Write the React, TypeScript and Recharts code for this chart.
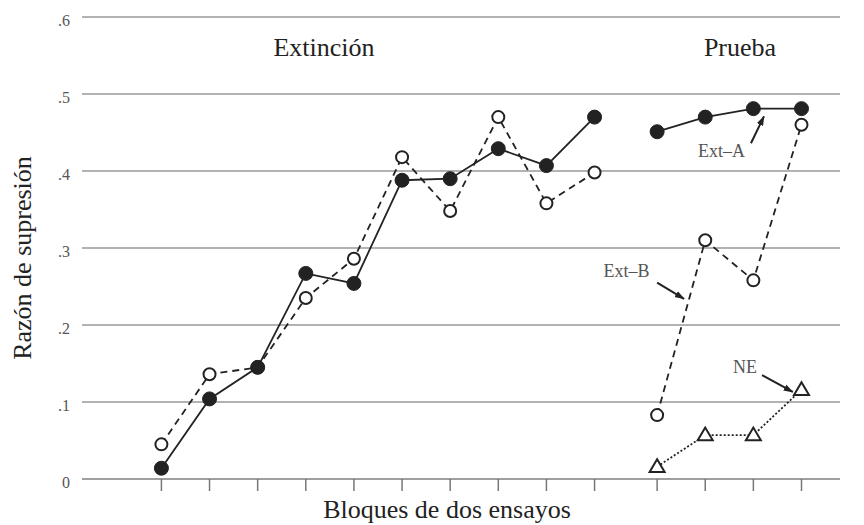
import React from "react";
import {
  LineChart,
  Line,
  XAxis,
  YAxis,
  CartesianGrid,
  ReferenceLine,
  Customized,
} from "recharts";

// Block positions (extinction blocks 1-10, test blocks after a break)
const extBlocks = [1, 2, 3, 4, 5, 6, 7, 8, 9, 10];
const testBlocks = [11.3, 12.3, 13.3, 14.3];

// Suppression ratios
const extA_ext = [0.014, 0.104, 0.145, 0.267, 0.254, 0.388, 0.39, 0.429, 0.407, 0.47];
const extB_ext = [0.045, 0.136, 0.145, 0.235, 0.286, 0.418, 0.348, 0.47, 0.358, 0.398];
const extA_test = [0.451, 0.47, 0.481, 0.481];
const extB_test = [0.083, 0.31, 0.258, 0.46];
const ne_test = [0.016, 0.057, 0.057, 0.116];

const yTicks = [0, 0.1, 0.2, 0.3, 0.4, 0.5, 0.6];
const yTickLabels = ["0", ".1", ".2", ".3", ".4", ".5", ".6"];
const xTicks = [...extBlocks, ...testBlocks];

const mk = (xs: number[], ys: number[]) => xs.map((x, i) => ({ x, y: ys[i] }));

const FONT = "'Liberation Serif', 'DejaVu Serif', serif";
const INK = "#222";

const FilledDot = (p: any) => (
  <circle cx={p.cx} cy={p.cy} r={7} fill={INK} stroke={INK} strokeWidth={1} />
);
const OpenDot = (p: any) => (
  <circle cx={p.cx} cy={p.cy} r={6} fill="#fff" stroke={INK} strokeWidth={2} />
);
const TriDot = (p: any) => {
  const { cx, cy } = p;
  const s = 7.5;
  const pts = `${cx},${cy - s} ${cx - s},${cy + s * 0.7} ${cx + s},${cy + s * 0.7}`;
  return <polygon points={pts} fill="#fff" stroke={INK} strokeWidth={2} />;
};

const EmptyTick = () => <g />;

const Texts = () => (
  <g fontFamily={FONT}>
    <defs>
      <marker id="arrowHead" viewBox="0 0 12 8" refX="11" refY="4" markerWidth="5" markerHeight="4" orient="auto">
        <path d="M0,0 L12,4 L0,8 z" fill={INK} />
      </marker>
    </defs>
    <text x={324} y={56} textAnchor="middle" fontSize={26} fill={INK}>Extinción</text>
    <text x={740} y={56} textAnchor="middle" fontSize={26} fill={INK}>Prueba</text>
    <text x={721.5} y={157} textAnchor="middle" fontSize={18} fill="#555">Ext–A</text>
    <text x={626.5} y={277} textAnchor="middle" fontSize={18} fill="#555">Ext–B</text>
    <text x={745} y={373} textAnchor="middle" fontSize={18} fill="#555">NE</text>
    <text x={447} y={518} textAnchor="middle" fontSize={26} fill={INK}>Bloques de dos ensayos</text>
    <text
      x={0}
      y={0}
      transform="translate(31,258) rotate(-90)"
      textAnchor="middle"
      fontSize={26}
      fill={INK}
    >
      Razón de supresión
    </text>
  </g>
);

export default function App() {
  return (
    <div style={{ position: "absolute", left: 0, top: 0, width: 864, height: 525, background: "#fff" }}>
      <LineChart
        width={864}
        height={525}
        margin={{ top: 17, right: 24, left: 32, bottom: 0 }}
      >
        <Customized component={Texts} />
        <CartesianGrid vertical={false} stroke="#999" strokeWidth={1.5} />
        <XAxis
          type="number"
          dataKey="x"
          domain={[-0.65, 15.1]}
          ticks={xTicks}
          tick={EmptyTick}
          tickSize={12}
          tickLine={{ stroke: "#777", strokeWidth: 1.5 }}
          axisLine={{ stroke: "#999", strokeWidth: 1.5 }}
          height={46}
          allowDataOverflow
        />
        <YAxis
          type="number"
          domain={[0, 0.6]}
          ticks={yTicks}
          tickFormatter={(v: number) => yTickLabels[yTicks.indexOf(v)] ?? String(v)}
          width={50}
          axisLine={false}
          tickLine={false}
          tickSize={0}
          tickMargin={12}
          tick={{ fill: "#555", fontSize: 16, fontFamily: FONT, dy: 3 }}
        />
        <ReferenceLine
          segment={[{ x: 13.25, y: 0.436 }, { x: 13.52, y: 0.471 }]}
          stroke={INK}
          strokeWidth={2}
          markerEnd="url(#arrowHead)"
        />
        <ReferenceLine
          segment={[{ x: 11.3, y: 0.255 }, { x: 11.86, y: 0.234 }]}
          stroke={INK}
          strokeWidth={2}
          markerEnd="url(#arrowHead)"
        />
        <ReferenceLine
          segment={[{ x: 13.48, y: 0.135 }, { x: 14.12, y: 0.113 }]}
          stroke={INK}
          strokeWidth={2}
          markerEnd="url(#arrowHead)"
        />
        <Line
          data={mk(extBlocks, extB_ext)}
          dataKey="y"
          stroke={INK}
          strokeWidth={1.8}
          strokeDasharray="7 5"
          dot={OpenDot}
          isAnimationActive={false}
        />
        <Line
          data={mk(extBlocks, extA_ext)}
          dataKey="y"
          stroke={INK}
          strokeWidth={1.8}
          dot={FilledDot}
          isAnimationActive={false}
        />
        <Line
          data={mk(testBlocks, extB_test)}
          dataKey="y"
          stroke={INK}
          strokeWidth={1.8}
          strokeDasharray="7 5"
          dot={OpenDot}
          isAnimationActive={false}
        />
        <Line
          data={mk(testBlocks, extA_test)}
          dataKey="y"
          stroke={INK}
          strokeWidth={1.8}
          dot={FilledDot}
          isAnimationActive={false}
        />
        <Line
          data={mk(testBlocks, ne_test)}
          dataKey="y"
          stroke={INK}
          strokeWidth={1.8}
          strokeDasharray="2 2"
          dot={TriDot}
          isAnimationActive={false}
        />
      </LineChart>
    </div>
  );
}
